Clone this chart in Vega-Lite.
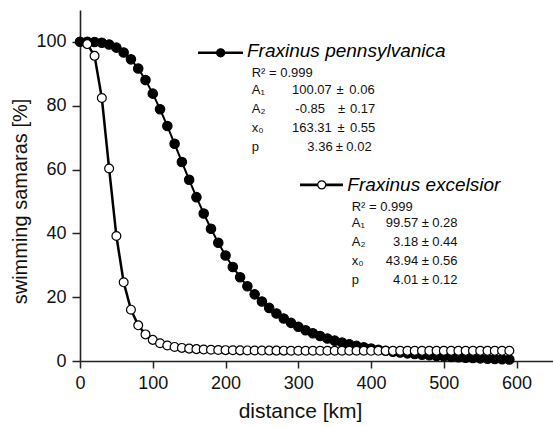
{
  "$schema": "https://vega.github.io/schema/vega-lite/v6.json",
  "width": 473,
  "height": 351,
  "autosize": {"type": "none"},
  "padding": {"left": 80, "top": 10, "right": 0, "bottom": 66},
  "background": "white",
  "config": {
    "view": {"stroke": null},
    "font": "Liberation Sans",
    "axis": {
      "grid": false,
      "domainColor": "#222",
      "domainWidth": 1.6,
      "tickColor": "#222",
      "tickWidth": 1.5,
      "labelColor": "#111",
      "labelFont": "Liberation Sans",
      "labelFontSize": 18,
      "labelOverlap": false,
      "labelFlush": false,
      "titleColor": "#111",
      "titleFont": "Liberation Sans",
      "titleFontSize": 20,
      "titleFontWeight": "normal"
    }
  },
  "datasets": {
    "series": [
      {"species": "pennsylvanica", "km": 0, "value": 100.07},
      {"species": "pennsylvanica", "km": 10, "value": 100.06},
      {"species": "pennsylvanica", "km": 20, "value": 99.98},
      {"species": "pennsylvanica", "km": 30, "value": 99.73},
      {"species": "pennsylvanica", "km": 40, "value": 99.18},
      {"species": "pennsylvanica", "km": 50, "value": 98.21},
      {"species": "pennsylvanica", "km": 60, "value": 96.70},
      {"species": "pennsylvanica", "km": 70, "value": 94.53},
      {"species": "pennsylvanica", "km": 80, "value": 91.66},
      {"species": "pennsylvanica", "km": 90, "value": 88.07},
      {"species": "pennsylvanica", "km": 100, "value": 83.79},
      {"species": "pennsylvanica", "km": 110, "value": 78.92},
      {"species": "pennsylvanica", "km": 120, "value": 73.63},
      {"species": "pennsylvanica", "km": 130, "value": 68.06},
      {"species": "pennsylvanica", "km": 140, "value": 62.39},
      {"species": "pennsylvanica", "km": 150, "value": 56.78},
      {"species": "pennsylvanica", "km": 160, "value": 51.35},
      {"species": "pennsylvanica", "km": 170, "value": 46.22},
      {"species": "pennsylvanica", "km": 180, "value": 41.43},
      {"species": "pennsylvanica", "km": 190, "value": 37.05},
      {"species": "pennsylvanica", "km": 200, "value": 33.07},
      {"species": "pennsylvanica", "km": 210, "value": 29.48},
      {"species": "pennsylvanica", "km": 220, "value": 26.27},
      {"species": "pennsylvanica", "km": 230, "value": 23.41},
      {"species": "pennsylvanica", "km": 240, "value": 20.88},
      {"species": "pennsylvanica", "km": 250, "value": 18.63},
      {"species": "pennsylvanica", "km": 260, "value": 16.64},
      {"species": "pennsylvanica", "km": 270, "value": 14.88},
      {"species": "pennsylvanica", "km": 280, "value": 13.33},
      {"species": "pennsylvanica", "km": 290, "value": 11.95},
      {"species": "pennsylvanica", "km": 300, "value": 10.73},
      {"species": "pennsylvanica", "km": 310, "value": 9.65},
      {"species": "pennsylvanica", "km": 320, "value": 8.69},
      {"species": "pennsylvanica", "km": 330, "value": 7.83},
      {"species": "pennsylvanica", "km": 340, "value": 7.07},
      {"species": "pennsylvanica", "km": 350, "value": 6.38},
      {"species": "pennsylvanica", "km": 360, "value": 5.77},
      {"species": "pennsylvanica", "km": 370, "value": 5.23},
      {"species": "pennsylvanica", "km": 380, "value": 4.73},
      {"species": "pennsylvanica", "km": 390, "value": 4.29},
      {"species": "pennsylvanica", "km": 400, "value": 3.89},
      {"species": "pennsylvanica", "km": 410, "value": 3.53},
      {"species": "pennsylvanica", "km": 420, "value": 3.20},
      {"species": "pennsylvanica", "km": 430, "value": 2.91},
      {"species": "pennsylvanica", "km": 440, "value": 2.64},
      {"species": "pennsylvanica", "km": 450, "value": 2.39},
      {"species": "pennsylvanica", "km": 460, "value": 2.17},
      {"species": "pennsylvanica", "km": 470, "value": 1.96},
      {"species": "pennsylvanica", "km": 480, "value": 1.78},
      {"species": "pennsylvanica", "km": 490, "value": 1.60},
      {"species": "pennsylvanica", "km": 500, "value": 1.45},
      {"species": "pennsylvanica", "km": 510, "value": 1.30},
      {"species": "pennsylvanica", "km": 520, "value": 1.17},
      {"species": "pennsylvanica", "km": 530, "value": 1.05},
      {"species": "pennsylvanica", "km": 540, "value": 0.93},
      {"species": "pennsylvanica", "km": 550, "value": 0.83},
      {"species": "pennsylvanica", "km": 560, "value": 0.73},
      {"species": "pennsylvanica", "km": 570, "value": 0.64},
      {"species": "pennsylvanica", "km": 580, "value": 0.56},
      {"species": "pennsylvanica", "km": 590, "value": 0.48},
      {"species": "excelsior", "km": 10, "value": 99.32},
      {"species": "excelsior", "km": 20, "value": 95.63},
      {"species": "excelsior", "km": 30, "value": 82.42},
      {"species": "excelsior", "km": 40, "value": 60.34},
      {"species": "excelsior", "km": 50, "value": 39.16},
      {"species": "excelsior", "km": 60, "value": 24.66},
      {"species": "excelsior", "km": 70, "value": 16.08},
      {"species": "excelsior", "km": 80, "value": 11.18},
      {"species": "excelsior", "km": 90, "value": 8.33},
      {"species": "excelsior", "km": 100, "value": 6.62},
      {"species": "excelsior", "km": 110, "value": 5.55},
      {"species": "excelsior", "km": 120, "value": 4.87},
      {"species": "excelsior", "km": 130, "value": 4.41},
      {"species": "excelsior", "km": 140, "value": 4.10},
      {"species": "excelsior", "km": 150, "value": 3.88},
      {"species": "excelsior", "km": 160, "value": 3.72},
      {"species": "excelsior", "km": 170, "value": 3.60},
      {"species": "excelsior", "km": 180, "value": 3.52},
      {"species": "excelsior", "km": 190, "value": 3.45},
      {"species": "excelsior", "km": 200, "value": 3.40},
      {"species": "excelsior", "km": 210, "value": 3.36},
      {"species": "excelsior", "km": 220, "value": 3.33},
      {"species": "excelsior", "km": 230, "value": 3.31},
      {"species": "excelsior", "km": 240, "value": 3.29},
      {"species": "excelsior", "km": 250, "value": 3.27},
      {"species": "excelsior", "km": 260, "value": 3.26},
      {"species": "excelsior", "km": 270, "value": 3.25},
      {"species": "excelsior", "km": 280, "value": 3.24},
      {"species": "excelsior", "km": 290, "value": 3.23},
      {"species": "excelsior", "km": 300, "value": 3.22},
      {"species": "excelsior", "km": 310, "value": 3.22},
      {"species": "excelsior", "km": 320, "value": 3.21},
      {"species": "excelsior", "km": 330, "value": 3.21},
      {"species": "excelsior", "km": 340, "value": 3.21},
      {"species": "excelsior", "km": 350, "value": 3.20},
      {"species": "excelsior", "km": 360, "value": 3.20},
      {"species": "excelsior", "km": 370, "value": 3.20},
      {"species": "excelsior", "km": 380, "value": 3.20},
      {"species": "excelsior", "km": 390, "value": 3.20},
      {"species": "excelsior", "km": 400, "value": 3.19},
      {"species": "excelsior", "km": 410, "value": 3.19},
      {"species": "excelsior", "km": 420, "value": 3.19},
      {"species": "excelsior", "km": 430, "value": 3.19},
      {"species": "excelsior", "km": 440, "value": 3.19},
      {"species": "excelsior", "km": 450, "value": 3.19},
      {"species": "excelsior", "km": 460, "value": 3.19},
      {"species": "excelsior", "km": 470, "value": 3.19},
      {"species": "excelsior", "km": 480, "value": 3.19},
      {"species": "excelsior", "km": 490, "value": 3.19},
      {"species": "excelsior", "km": 500, "value": 3.19},
      {"species": "excelsior", "km": 510, "value": 3.19},
      {"species": "excelsior", "km": 520, "value": 3.19},
      {"species": "excelsior", "km": 530, "value": 3.19},
      {"species": "excelsior", "km": 540, "value": 3.19},
      {"species": "excelsior", "km": 550, "value": 3.19},
      {"species": "excelsior", "km": 560, "value": 3.19},
      {"species": "excelsior", "km": 570, "value": 3.19},
      {"species": "excelsior", "km": 580, "value": 3.19},
      {"species": "excelsior", "km": 590, "value": 3.19}
    ],
    "keys": [
      {"species": "pennsylvanica", "x1": 162.2, "x2": 224.0, "xm": 193.3, "y": 96.6},
      {"species": "excelsior", "x1": 302.3, "x2": 361.4, "xm": 332.2, "y": 55.2}
    ],
    "notes": [
      {"col": "title", "x": 229.5, "y": 95.2, "text": "Fraxinus pennsylvanica"},
      {"col": "label", "x": 236.0, "y": 89.1, "text": "R² = 0.999"},
      {"col": "label", "x": 236.0, "y": 83.7, "text": "A₁"},
      {"col": "num", "x": 345.9, "y": 83.7, "text": "100.07"},
      {"col": "pm", "x": 357.3, "y": 83.7, "text": "±"},
      {"col": "err", "x": 370.1, "y": 83.7, "text": "0.06"},
      {"col": "label", "x": 236.0, "y": 77.6, "text": "A₂"},
      {"col": "num", "x": 336.7, "y": 77.6, "text": "-0.85"},
      {"col": "pm", "x": 359.6, "y": 77.6, "text": "±"},
      {"col": "err", "x": 371.0, "y": 77.6, "text": "0.17"},
      {"col": "label", "x": 236.0, "y": 71.9, "text": "x₀"},
      {"col": "num", "x": 345.9, "y": 71.9, "text": "163.31"},
      {"col": "pm", "x": 358.6, "y": 71.9, "text": "±"},
      {"col": "err", "x": 371.0, "y": 71.9, "text": "0.55"},
      {"col": "label", "x": 236.0, "y": 65.9, "text": "p"},
      {"col": "num", "x": 347.2, "y": 65.9, "text": "3.36"},
      {"col": "pm", "x": 356.5, "y": 65.9, "text": "±"},
      {"col": "err", "x": 366.0, "y": 65.9, "text": "0.02"},
      {"col": "title", "x": 367.3, "y": 53.4, "text": "Fraxinus excelsior"},
      {"col": "label", "x": 373.4, "y": 47.1, "text": "R² = 0.999"},
      {"col": "label", "x": 373.4, "y": 42.1, "text": "A₁"},
      {"col": "num", "x": 464.9, "y": 42.1, "text": "99.57"},
      {"col": "pm", "x": 474.6, "y": 42.1, "text": "±"},
      {"col": "err", "x": 484.0, "y": 42.1, "text": "0.28"},
      {"col": "label", "x": 373.4, "y": 36.1, "text": "A₂"},
      {"col": "num", "x": 464.9, "y": 36.1, "text": "3.18"},
      {"col": "pm", "x": 474.6, "y": 36.1, "text": "±"},
      {"col": "err", "x": 484.0, "y": 36.1, "text": "0.44"},
      {"col": "label", "x": 373.4, "y": 30.2, "text": "x₀"},
      {"col": "num", "x": 464.9, "y": 30.2, "text": "43.94"},
      {"col": "pm", "x": 474.6, "y": 30.2, "text": "±"},
      {"col": "err", "x": 484.0, "y": 30.2, "text": "0.56"},
      {"col": "label", "x": 373.4, "y": 24.1, "text": "p"},
      {"col": "num", "x": 464.9, "y": 24.1, "text": "4.01"},
      {"col": "pm", "x": 474.6, "y": 24.1, "text": "±"},
      {"col": "err", "x": 484.0, "y": 24.1, "text": "0.12"}
    ]
  },
  "layer": [
    {
      "data": {"name": "series"},
      "transform": [{"filter": "datum.species === 'pennsylvanica'"}],
      "mark": {"type": "line", "color": "#000", "strokeWidth": 2},
      "encoding": {
        "x": {
          "field": "km", "type": "quantitative",
          "scale": {"domain": [0, 650], "nice": false, "zero": false},
          "axis": {
            "title": "distance [km]",
            "titleFontSize": 21,
            "values": [0, 50, 100, 150, 200, 250, 300, 350, 400, 450, 500, 550, 600],
            "labelExpr": "datum.value % 100 === 0 ? datum.label : ''",
            "tickSize": {"condition": {"test": "datum.value % 100 === 0", "value": 7}, "value": 4},
            "labelPadding": 6,
            "titleX": 220,
            "titlePadding": 8
          }
        },
        "y": {
          "field": "value", "type": "quantitative",
          "scale": {"domain": [0, 110], "nice": false, "zero": false},
          "axis": {
            "title": "swimming samaras [%]",
            "values": [0, 10, 20, 30, 40, 50, 60, 70, 80, 90, 100],
            "labelExpr": "datum.value % 20 === 0 ? datum.label : ''",
            "tickSize": {"condition": {"test": "datum.value % 20 === 0", "value": 8}, "value": 4},
            "labelPadding": 6,
            "titleY": 191,
            "titlePadding": 5
          }
        }
      }
    },
    {
      "data": {"name": "series"},
      "transform": [{"filter": "datum.species === 'excelsior'"}],
      "mark": {"type": "line", "color": "#000", "strokeWidth": 2.5},
      "encoding": {
        "x": {"field": "km", "type": "quantitative"},
        "y": {"field": "value", "type": "quantitative"}
      }
    },
    {
      "data": {"name": "series"},
      "mark": {"type": "circle", "stroke": "#000", "strokeWidth": 1.2, "opacity": 1},
      "encoding": {
        "x": {"field": "km", "type": "quantitative"},
        "y": {"field": "value", "type": "quantitative"},
        "fill": {"field": "species", "type": "nominal", "scale": {"domain": ["pennsylvanica", "excelsior"], "range": ["#000000", "#ffffff"]}, "legend": null},
        "size": {"field": "species", "type": "nominal", "scale": {"domain": ["pennsylvanica", "excelsior"], "range": [88, 78]}, "legend": null}
      }
    },
    {
      "data": {"name": "keys"},
      "mark": {"type": "rule", "color": "#000", "strokeWidth": 2.6},
      "encoding": {
        "x": {"field": "x1", "type": "quantitative"},
        "x2": {"field": "x2"},
        "y": {"field": "y", "type": "quantitative"}
      }
    },
    {
      "data": {"name": "keys"},
      "mark": {"type": "circle", "stroke": "#000", "strokeWidth": 1.2, "opacity": 1, "size": 65},
      "encoding": {
        "x": {"field": "xm", "type": "quantitative"},
        "y": {"field": "y", "type": "quantitative"},
        "fill": {"field": "species", "type": "nominal", "legend": null}
      }
    },
    {
      "data": {"name": "notes"},
      "transform": [{"filter": "datum.col === 'title'"}],
      "mark": {"type": "text", "align": "left", "baseline": "alphabetic", "font": "Liberation Sans", "fontSize": 19, "fontStyle": "italic", "color": "#000"},
      "encoding": {
        "x": {"field": "x", "type": "quantitative"},
        "y": {"field": "y", "type": "quantitative"},
        "text": {"field": "text"}
      }
    },
    {
      "data": {"name": "notes"},
      "transform": [{"filter": "datum.col === 'label' || datum.col === 'err'"}],
      "mark": {"type": "text", "align": "left", "baseline": "alphabetic", "font": "Liberation Sans", "fontSize": 13, "color": "#111"},
      "encoding": {
        "x": {"field": "x", "type": "quantitative"},
        "y": {"field": "y", "type": "quantitative"},
        "text": {"field": "text"}
      }
    },
    {
      "data": {"name": "notes"},
      "transform": [{"filter": "datum.col === 'num'"}],
      "mark": {"type": "text", "align": "right", "baseline": "alphabetic", "font": "Liberation Sans", "fontSize": 13, "color": "#111"},
      "encoding": {
        "x": {"field": "x", "type": "quantitative"},
        "y": {"field": "y", "type": "quantitative"},
        "text": {"field": "text"}
      }
    },
    {
      "data": {"name": "notes"},
      "transform": [{"filter": "datum.col === 'pm'"}],
      "mark": {"type": "text", "align": "center", "baseline": "alphabetic", "font": "Liberation Sans", "fontSize": 13, "color": "#111"},
      "encoding": {
        "x": {"field": "x", "type": "quantitative"},
        "y": {"field": "y", "type": "quantitative"},
        "text": {"field": "text"}
      }
    }
  ]
}
